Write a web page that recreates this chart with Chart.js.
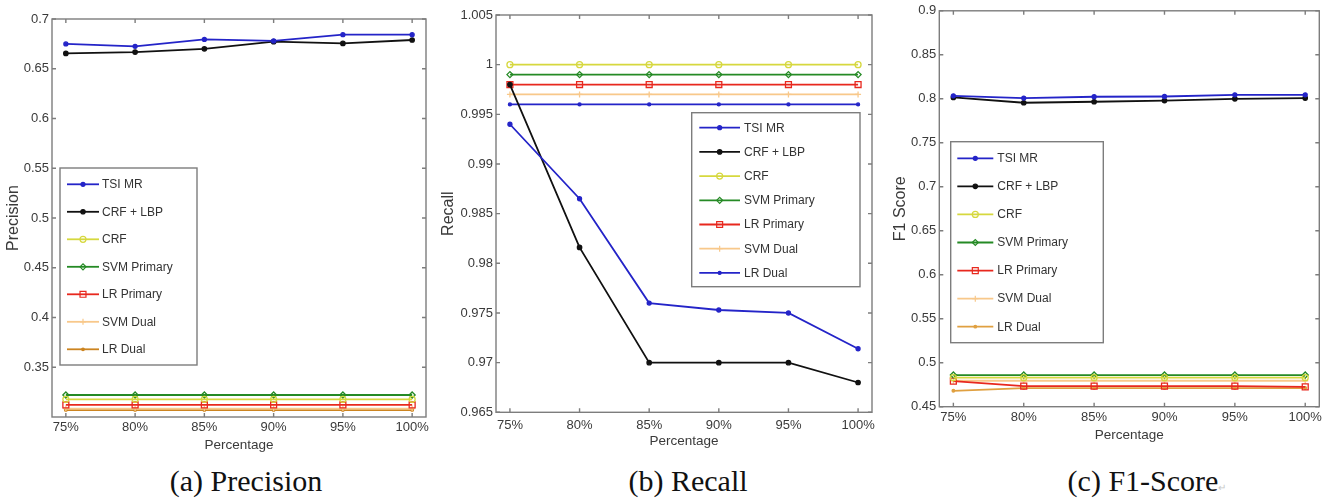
<!DOCTYPE html>
<html>
<head>
<meta charset="utf-8">
<script src="https://cdn.jsdelivr.net/npm/chart.js@4/dist/chart.umd.min.js"></script>
<style>
  html, body { margin: 0; padding: 0; background: #fff; }
  #page { position: relative; width: 1329px; height: 502px; overflow: hidden; }
  .panel { position: absolute; top: 0; height: 460px; }
  .caption {
    position: absolute; top: 464px; line-height: 34px;
    font-family: 'Liberation Serif', 'Times New Roman', serif; font-size: 30px;
    color: #111; white-space: nowrap; transform: translateX(-50%);
  }
  .mark { font-size: 10px; color: #c8c8c8; }
</style>
</head>
<body>
<div id="page">
  <div class="panel" style="left:0;width:436px"><canvas id="precision"></canvas></div>
  <div class="panel" style="left:436px;width:444px"><canvas id="recall"></canvas></div>
  <div class="panel" style="left:880px;width:449px"><canvas id="f1"></canvas></div>
  <div class="caption" style="left:246px">(a) Precision</div>
  <div class="caption" style="left:688px">(b) Recall</div>
  <div class="caption" style="left:1147px">(c) F1-Score<span class="mark">↵</span></div>
</div>
<script>
const percentages = [75, 80, 85, 90, 95, 100];
const seriesNames = ['TSI MR', 'CRF + LBP', 'CRF', 'SVM Primary', 'LR Primary', 'SVM Dual', 'LR Dual'];

// precision
const precisionTsiMr = [0.675, 0.6725, 0.6795, 0.678, 0.6842, 0.6842];
const precisionCrfLbp = [0.6654, 0.6668, 0.670, 0.6772, 0.6755, 0.6789];
const precisionCrf = [0.3178, 0.3178, 0.3178, 0.3178, 0.3178, 0.3178];
const precisionSvmPrimary = [0.3221, 0.3221, 0.3221, 0.3221, 0.3221, 0.3221];
const precisionLrPrimary = [0.3121, 0.3121, 0.3121, 0.3121, 0.3121, 0.3121];
const precisionSvmDual = [0.3085, 0.3085, 0.3085, 0.3085, 0.3085, 0.3085];
const precisionLrDual = [0.307, 0.307, 0.307, 0.307, 0.307, 0.307];
const precisionTicks = [0.35, 0.4, 0.45, 0.5, 0.55, 0.6, 0.65, 0.7];

// recall
const recallTsiMr = [0.994, 0.9865, 0.976, 0.9753, 0.975, 0.9714];
const recallCrfLbp = [0.998, 0.9816, 0.970, 0.970, 0.970, 0.968];
const recallCrf = [1.0, 1.0, 1.0, 1.0, 1.0, 1.0];
const recallSvmPrimary = [0.999, 0.999, 0.999, 0.999, 0.999, 0.999];
const recallLrPrimary = [0.998, 0.998, 0.998, 0.998, 0.998, 0.998];
const recallSvmDual = [0.997, 0.997, 0.997, 0.997, 0.997, 0.997];
const recallLrDual = [0.996, 0.996, 0.996, 0.996, 0.996, 0.996];
const recallTicks = [0.965, 0.97, 0.975, 0.98, 0.985, 0.99, 0.995, 1.0, 1.005];

// f1 score
const f1TsiMr = [0.8034, 0.8008, 0.8023, 0.8026, 0.8045, 0.8045];
const f1CrfLbp = [0.8015, 0.7955, 0.7966, 0.798, 0.800, 0.8008];
const f1Crf = [0.483, 0.483, 0.483, 0.483, 0.483, 0.483];
const f1SvmPrimary = [0.486, 0.486, 0.486, 0.486, 0.486, 0.486];
const f1LrPrimary = [0.479, 0.4734, 0.4734, 0.4734, 0.4734, 0.4725];
const f1SvmDual = [0.4795, 0.4795, 0.4795, 0.4795, 0.4795, 0.4795];
const f1LrDual = [0.4681, 0.4712, 0.4712, 0.4712, 0.4712, 0.4712];
const f1Ticks = [0.45, 0.5, 0.55, 0.6, 0.65, 0.7, 0.75, 0.8, 0.85, 0.9];

Chart.defaults.font.family = "'Liberation Sans', Arial, sans-serif";
Chart.defaults.color = '#3a3a3a';

const BLUE = '#2424c8';
const seriesStyle = [
  { color: BLUE, marker: 'circle', radius: 2, fill: BLUE },
  { color: '#111111', marker: 'circle', radius: 2.2, fill: '#111111' },
  { color: '#d6d83e', marker: 'circle', radius: 3, fill: 'rgba(0,0,0,0)' },
  { color: '#258a25', marker: 'rectRot', radius: 3, fill: 'rgba(0,0,0,0)' },
  { color: '#e8281e', marker: 'rect', radius: 4.2, fill: 'rgba(0,0,0,0)' },
  { color: '#f8c88a', marker: 'cross', radius: 3, fill: 'rgba(0,0,0,0)' },
  { color: '#cc8420', marker: 'circle', radius: 1.3, fill: '#cc8420' }
];

// box around the plot with matlab-style inward ticks on every side
const framePlugin = {
  id: 'frame',
  afterDraw(chart) {
    const { ctx, chartArea: a, scales: { x, y } } = chart;
    const len = 4;
    ctx.save();
    ctx.strokeStyle = '#7d7d7d';
    ctx.lineWidth = 1.4;
    ctx.strokeRect(a.left, a.top, a.right - a.left, a.bottom - a.top);
    ctx.beginPath();
    x.ticks.forEach(t => {
      const px = x.getPixelForValue(t.value);
      ctx.moveTo(px, a.bottom); ctx.lineTo(px, a.bottom - len);
      ctx.moveTo(px, a.top); ctx.lineTo(px, a.top + len);
    });
    y.ticks.forEach(t => {
      const py = y.getPixelForValue(t.value);
      ctx.moveTo(a.left, py); ctx.lineTo(a.left + len, py);
      ctx.moveTo(a.right, py); ctx.lineTo(a.right - len, py);
    });
    ctx.stroke();
    ctx.restore();
  }
};

// boxed legend placed inside the plot
const boxLegendPlugin = {
  id: 'boxLegend',
  afterDraw(chart, args, opts) {
    const { ctx } = chart;
    ctx.save();
    ctx.fillStyle = '#ffffff';
    ctx.fillRect(opts.x, opts.y, opts.w, opts.h);
    ctx.strokeStyle = '#7d7d7d';
    ctx.lineWidth = 1.4;
    ctx.strokeRect(opts.x, opts.y, opts.w, opts.h);
    ctx.font = "12px 'Liberation Sans', Arial, sans-serif";
    ctx.textBaseline = 'middle';
    chart.data.datasets.forEach((ds, i) => {
      const ry = opts.firstRow + i * opts.rowStep;
      ctx.strokeStyle = ds.borderColor;
      ctx.lineWidth = 1.8;
      ctx.beginPath();
      ctx.moveTo(opts.lineX0, ry);
      ctx.lineTo(opts.lineX1, ry);
      ctx.stroke();
      ctx.fillStyle = ds.pointBackgroundColor;
      ctx.lineWidth = 1.2;
      Chart.helpers.drawPoint(ctx, { pointStyle: ds.pointStyle, radius: ds.pointRadius, rotation: 0, borderWidth: 1.2 },
        (opts.lineX0 + opts.lineX1) / 2, ry);
      ctx.fillStyle = '#333333';
      ctx.fillText(ds.label, opts.textX, ry + 0.5);
    });
    ctx.restore();
  }
};

function buildChart(id, cfg) {
  const datasets = cfg.series.map((values, i) => {
    const st = Object.assign({}, seriesStyle[i], (cfg.styleOverride || {})[i]);
    return {
      label: seriesNames[i],
      data: values.map((v, j) => ({ x: percentages[j], y: v })),
      borderColor: st.color,
      borderWidth: 1.8,
      pointStyle: st.marker,
      pointRadius: st.radius,
      pointBorderWidth: 1.3,
      pointBorderColor: st.color,
      pointBackgroundColor: st.fill,
      tension: 0
    };
  });

  return new Chart(document.getElementById(id), {
    type: 'line',
    data: { datasets },
    options: {
      responsive: true,
      maintainAspectRatio: false,
      animation: false,
      layout: { padding: { left: 0, top: cfg.top, right: cfg.right, bottom: cfg.bottom } },
      plugins: {
        legend: { display: false },
        tooltip: { enabled: false },
        boxLegend: cfg.legend
      },
      scales: {
        x: {
          type: 'linear',
          min: 74,
          max: 101,
          afterFit: s => { s.height = cfg.xHeight; },
          afterBuildTicks: s => { s.ticks = percentages.map(v => ({ value: v })); },
          grid: { display: false, drawTicks: false },
          border: { display: false },
          ticks: { padding: cfg.xTickPad, maxRotation: 0, autoSkip: false, font: { size: 13 },
            callback: v => v + '%' },
          title: { display: true, text: 'Percentage', font: { size: 13.5 }, padding: { top: 0, bottom: 0 } }
        },
        y: {
          min: cfg.yMin,
          max: cfg.yMax,
          afterFit: s => { s.width = cfg.yWidth; },
          afterBuildTicks: s => { s.ticks = cfg.yTicks.map(v => ({ value: v })); },
          grid: { display: false, drawTicks: false },
          border: { display: false },
          ticks: { padding: 3, font: { size: 13 }, callback: v => String(+v.toFixed(3)) },
          title: { display: true, text: cfg.yTitle, font: { size: 16 }, padding: { top: cfg.yTitlePad, bottom: 0 } }
        }
      }
    },
    plugins: [framePlugin, boxLegendPlugin]
  });
}

buildChart('precision', {
  series: [precisionTsiMr, precisionCrfLbp, precisionCrf, precisionSvmPrimary, precisionLrPrimary, precisionSvmDual, precisionLrDual],
  yTicks: precisionTicks, yMin: 0.3, yMax: 0.7, yTitle: 'Precision',
  top: 19, right: 10, bottom: 7, yWidth: 52, yTitlePad: 4.4, xHeight: 36, xTickPad: 3,
  legend: { x: 60, y: 168, w: 137, h: 197, firstRow: 184.3, rowStep: 27.5, lineX0: 67, lineX1: 99, textX: 102 }
});

buildChart('recall', {
  series: [recallTsiMr, recallCrfLbp, recallCrf, recallSvmPrimary, recallLrPrimary, recallSvmDual, recallLrDual],
  styleOverride: { 6: { color: BLUE, fill: BLUE, radius: 1.5 } },
  yTicks: recallTicks, yMin: 0.965, yMax: 1.005, yTitle: 'Recall',
  top: 15, right: 8, bottom: 10.2, yWidth: 60, yTitlePad: 3.4, xHeight: 37.5, xTickPad: 5,
  legend: { x: 255.7, y: 112.7, w: 168.3, h: 174, firstRow: 127.7, rowStep: 24.2, lineX0: 263.3, lineX1: 304, textX: 308 }
});

buildChart('f1', {
  series: [f1TsiMr, f1CrfLbp, f1Crf, f1SvmPrimary, f1LrPrimary, f1SvmDual, f1LrDual],
  styleOverride: { 6: { color: '#e0a040', fill: '#e0a040' } },
  yTicks: f1Ticks, yMin: 0.45, yMax: 0.9, yTitle: 'F1 Score',
  top: 9.3, right: 9.7, bottom: 16.9, yWidth: 59.3, yTitlePad: 11.4, xHeight: 36.4, xTickPad: 3,
  legend: { x: 70.7, y: 141.7, w: 152.6, h: 201, firstRow: 158.3, rowStep: 28.07, lineX0: 77.3, lineX1: 113.3, textX: 117.3 }
});
</script>
</body>
</html>
